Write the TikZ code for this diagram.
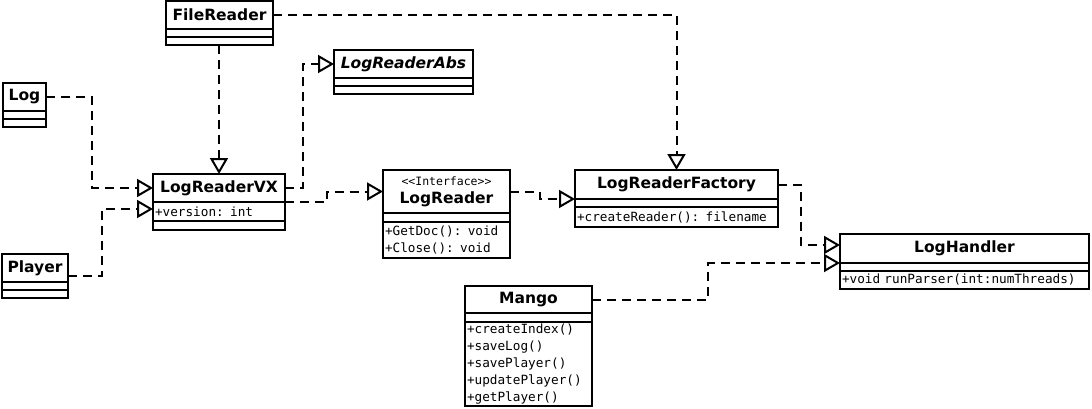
\documentclass[tikz,border=0pt]{standalone}
\usepackage{fontspec}
\setmainfont{DejaVu Sans}
\setmonofont{DejaVu Sans Mono}
\usetikzlibrary{positioning,arrows.meta}
\newcommand\clsfont{\fontsize{15.5}{18}\selectfont\bfseries}
\newcommand\memfont{\fontsize{12.7}{16.8}\selectfont\ttfamily}
\newcommand\stereofont{\fontsize{11.5}{13}\selectfont\mdseries\ttfamily}
\tikzset{
  box/.style={draw,line width=2pt,outer sep=0pt,inner sep=0pt},
  cname/.style={box,anchor=north west,minimum width=#1,minimum height=28,font=\clsfont,align=center},
  cempty/.style={box,minimum width=#1,minimum height=8},
  cbody/.style={box,text width=#1-4pt,inner xsep=2pt,align=left,font=\memfont},
  realize/.style={line width=2pt,dash pattern=on 9pt off 6pt,-{Triangle[open,length=16pt,width=18pt]}}
}
\begin{document}
\begin{tikzpicture}[x=1pt,y=-1pt]
   \useasboundingbox (0,0) rectangle (1092,409);
   \node[cname=107] (fr) at (166,1) {FileReader};
   \node[cempty=107,below=0pt of fr] (fr1) {};
   \node[cempty=107,below=0pt of fr1] (fr2) {};
   \node[cname=139,font=\clsfont\itshape] (abs) at (334,50) {LogReaderAbs};
   \node[cempty=139,below=0pt of abs] (abs1) {};
   \node[cempty=139,below=0pt of abs1] (abs2) {};
   \node[cname=43] (log) at (3,83) {Log};
   \node[cempty=43,below=0pt of log] (log1) {};
   \node[cempty=43,below=0pt of log1] (log2) {};
   \node[cname=66] (pl) at (2,254) {Player};
   \node[cempty=66,below=0pt of pl] (pl1) {};
   \node[cempty=66,below=0pt of pl1] (pl2) {};
   \node[cname=132] (vx) at (153,174) {LogReaderVX};
   \node[cbody=132,minimum height=19,below=0pt of vx] (vxa) {+version: int};
   \node[cempty=132,minimum height=9,below=0pt of vxa] (vxb) {};
   \node[cname=127,minimum height=43] (lr) at (383,170) {{\stereofont <<Interface>>}\\LogReader};
   \node[cempty=127,minimum height=9,below=0pt of lr] (lr1) {};
   \node[cbody=127,minimum height=36,below=0pt of lr1] (lr2) {+GetDoc(): void\\+Close(): void};
   \node[cname=203,minimum height=29] (fac) at (575,170) {LogReaderFactory};
   \node[cempty=203,below=0pt of fac] (fac1) {};
   \node[cbody=203,minimum height=20,below=0pt of fac1] (fac2) {+createReader(): filename};
   \node[cname=127,minimum height=27] (mg) at (465,286) {Mango};
   \node[cempty=127,minimum height=9,below=0pt of mg] (mg1) {};
   \node[cbody=127,minimum height=84,below=0pt of mg1] (mg2) {+createIndex()\\+saveLog()\\+savePlayer()\\+updatePlayer()\\+getPlayer()};
   \node[cname=249,minimum height=29] (lh) at (840,234) {LogHandler};
   \node[cempty=249,below=0pt of lh] (lh1) {};
   \node[cbody=249,minimum height=18,below=0pt of lh1] (lh2) {+void runParser(int:numThreads)};
   \draw[realize] (vx.north |- fr2.south) -- (vx.north);
   \draw[realize] (fr.east) -| (fac.north);
   \draw[realize] (log.east) -- ++(46,0) |- (vx.west);
   \draw[realize] ([yshift=-8pt]pl.east) -- ++(34,0) |- ([yshift=2.5pt]vxa.west);
   \draw[realize] (vx.east) -- ++(18,0) |- (abs.west);
   \draw[realize] (vx.south east) -- ++(42,0) |- (lr.west);
   \draw[realize] (lr.east) -- ++(30,0) |- (fac.south west);
   \draw[realize] (fac.east) -- ++(23,0) |- ([yshift=3.5pt]lh.west);
   \draw[realize] (mg.east) -- ++(116,0) |- (lh.south west);
\end{tikzpicture}
\end{document}
